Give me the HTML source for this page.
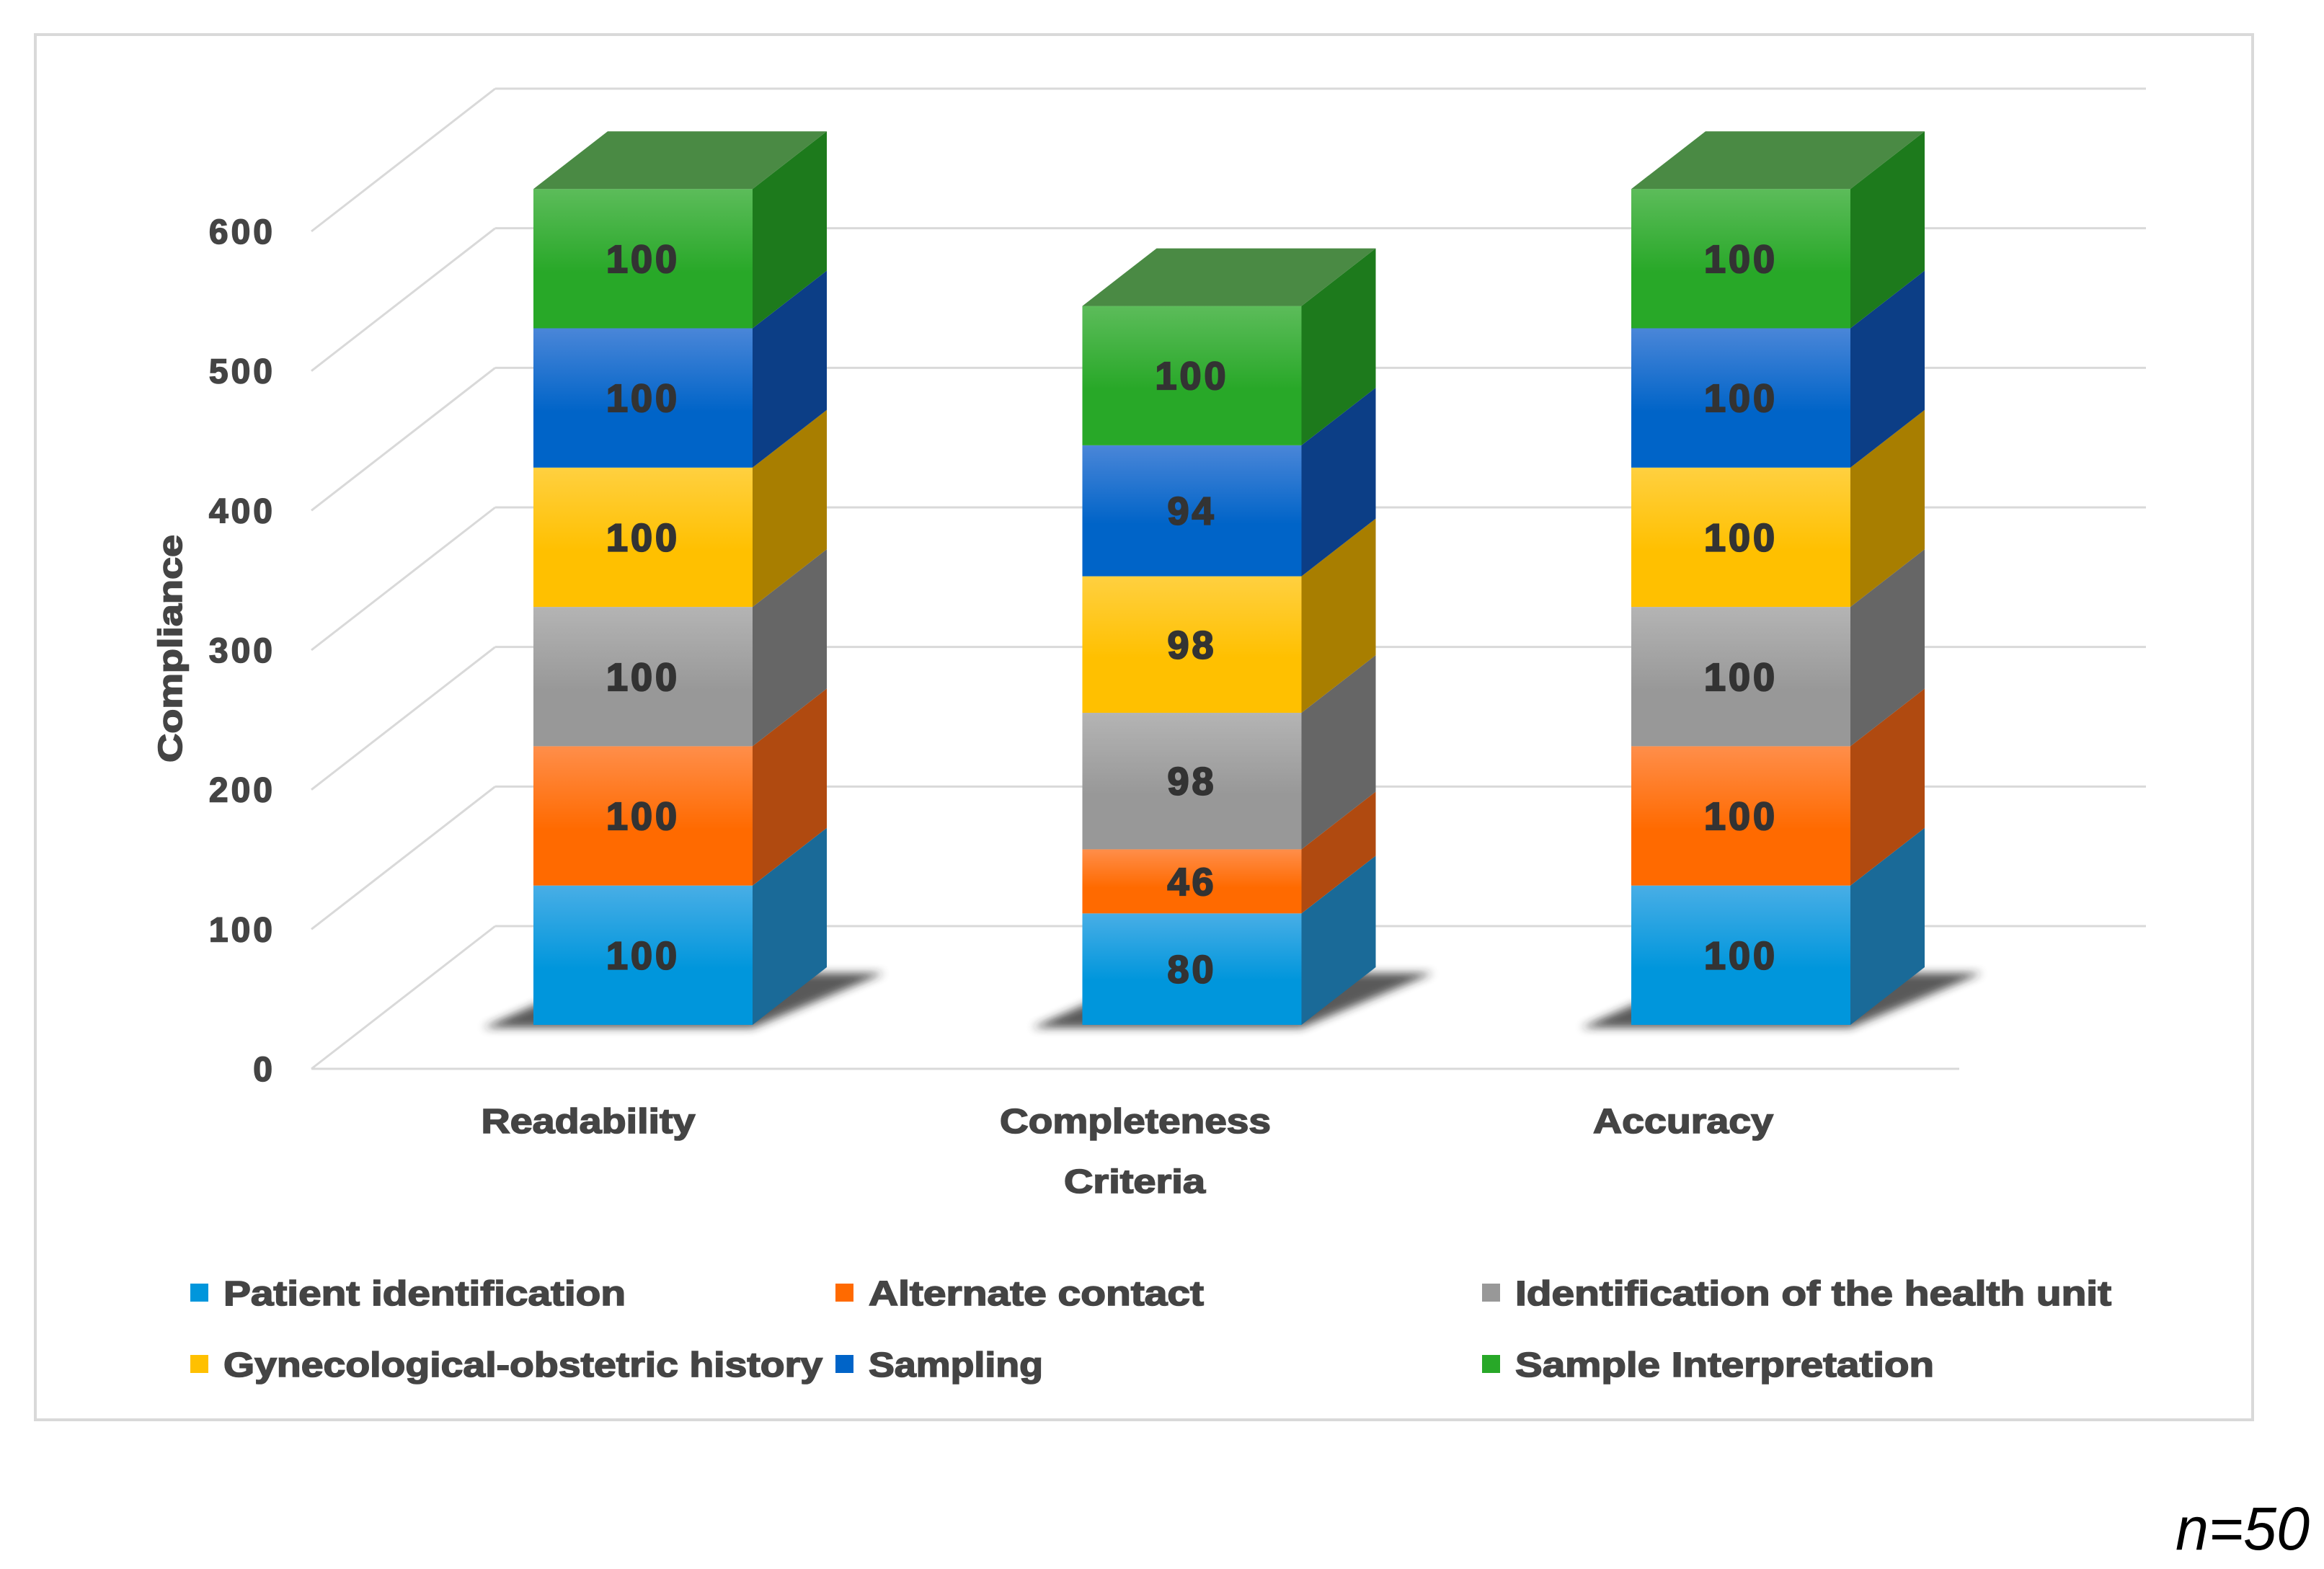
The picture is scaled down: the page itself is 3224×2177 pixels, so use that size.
<!DOCTYPE html>
<html><head><meta charset="utf-8"><style>
html,body{margin:0;padding:0;background:#fff;}
svg{display:block;}
text{font-family:"Liberation Sans",Arial,sans-serif;}
.bold{stroke:#444;stroke-width:1.6;paint-order:stroke;}
</style></head><body>
<svg id="chart" width="3224" height="2177" viewBox="0 0 3224 2177" xmlns="http://www.w3.org/2000/svg">
<defs>
<filter id="blur" x="-20%" y="-50%" width="140%" height="200%"><feGaussianBlur stdDeviation="6"/></filter>
</defs>
<rect x="49" y="48" width="3076" height="1922" fill="#fff" stroke="#d9d9d9" stroke-width="4"/>
<g id="grid"></g>
<g id="ticks"></g>
<g id="bars"></g>
<text class="bold" transform="translate(252,900) rotate(-90)" text-anchor="middle" font-size="46" font-weight="bold" fill="#444" textLength="316" lengthAdjust="spacingAndGlyphs">Compliance</text>
<g id="cats"></g>
<text class="bold" x="1574" y="1655" text-anchor="middle" font-size="46" font-weight="bold" fill="#444" textLength="196" lengthAdjust="spacingAndGlyphs">Criteria</text>
<g id="legend"></g>
<text x="3204" y="2150" text-anchor="end" font-size="84" font-style="italic" fill="#000" textLength="186" lengthAdjust="spacingAndGlyphs">n=50</text>
</svg>
<script>
const categories = ["Readability","Completeness","Accuracy"];
const seriesNames = ["Patient identification","Alternate contact","Identification of the health unit","Gynecological-obstetric history","Sampling","Sample Interpretation"];
const patientIdentification = [100,80,100];
const alternateContact = [100,46,100];
const healthUnit = [100,98,100];
const gynObstetric = [100,98,100];
const sampling = [100,94,100];
const sampleInterpretation = [100,100,100];
const yTicks = [0,100,200,300,400,500,600];

const series = [patientIdentification,alternateContact,healthUnit,gynObstetric,sampling,sampleInterpretation];
const front = [["#48aee6","#0096dc"],["#ff8e4a","#ff6a00"],["#b4b4b4","#989898"],["#ffd040","#ffc000"],["#4a86d8","#0064c8"],["#5cbc5a","#28a828"]];
const side = ["#1a6a98","#b04a10","#666666","#a87e00","#0c3e86","#1d7a1c"];
const NS="http://www.w3.org/2000/svg";
const svg=document.getElementById('chart');
const defs=svg.querySelector('defs');
front.forEach((c,i)=>{const g=document.createElementNS(NS,'linearGradient');g.setAttribute('id','g'+i);g.setAttribute('x1','0');g.setAttribute('y1','0');g.setAttribute('x2','0');g.setAttribute('y2','1');
g.innerHTML='<stop offset="0" stop-color="'+c[0]+'"/><stop offset="0.6" stop-color="'+c[1]+'"/><stop offset="1" stop-color="'+c[1]+'"/>';defs.appendChild(g);});
function mk(tag,attrs,parent){const e=document.createElementNS(NS,tag);for(const k in attrs)e.setAttribute(k,attrs[k]);parent.appendChild(e);return e;}
const gridScale=(1483-321)/600;
const yGrid=v=>1483-v*gridScale;
const barScale=1.933;
const yBar=v=>1422-v*barScale;
const xCenter=i=>892+i*761.5;
const BW=304, DX=103, DY=-80, GDX=255, GDY=-198;
const grid=document.getElementById('grid');
const ticks=document.getElementById('ticks');
yTicks.forEach(v=>{
  const y=yGrid(v);
  let l=mk('line',{x1:687,y1:y+GDY,x2:2977,y2:y+GDY,stroke:"#d9d9d9","stroke-width":3},grid);
  
  l=mk('line',{x1:432,y1:y,x2:687,y2:y+GDY,stroke:"#d9d9d9","stroke-width":3},grid);
  
  const t=mk('text',{x:382,y:y+17,"text-anchor":"end","font-size":48,"font-weight":"bold",fill:"#444","letter-spacing":"4","class":"bold"},ticks);
  
  t.textContent=v;
});
let fl=mk('line',{x1:432,y1:1483,x2:2718,y2:1483,stroke:"#d9d9d9","stroke-width":3},grid);


const bars=document.getElementById('bars');
categories.forEach((c,ci)=>{
  const x0=xCenter(ci)-BW/2;
  const sh=mk('polygon',{points:[x0-70,1426,x0+BW,1426,x0+BW+DX+80,1422+DY+8,x0+DX,1422+DY+8].join(' '),fill:"#222",opacity:0.75,filter:"url(#blur)"},bars);
  
  let cum=0;
  series.forEach((s,si)=>{
    const v=s[ci];const yb=yBar(cum),yt=yBar(cum+v);cum+=v;
    const r=mk('rect',{x:x0,y:yt,width:BW,height:yb-yt,fill:"url(#g"+si+")"},bars);
    
    const p=mk('polygon',{points:[x0+BW,yb,x0+BW+DX,yb+DY,x0+BW+DX,yt+DY,x0+BW,yt].join(' '),fill:side[si]},bars);
    
    const t=mk('text',{x:xCenter(ci),y:(yb+yt)/2+19,"text-anchor":"middle","font-size":54,"font-weight":"bold",fill:"#333",stroke:"#333","stroke-width":2.2,"letter-spacing":"4"},bars);
    
    t.textContent=v;
  });
  const yt=yBar(cum);
  const top=mk('polygon',{points:[x0,yt,x0+BW,yt,x0+BW+DX,yt+DY,x0+DX,yt+DY].join(' '),fill:"#4a8a44"},bars);
  
});
const cats=document.getElementById('cats');
const catX=[816,1575,2335], catW=[297,376,250];
categories.forEach((c,i)=>{
  const t=mk('text',{x:catX[i],y:1572,"text-anchor":"middle","font-size":48,"font-weight":"bold",fill:"#444","class":"bold",textLength:catW[i],lengthAdjust:"spacingAndGlyphs"},cats);
  
  t.textContent=c;
});
const legend=document.getElementById('legend');
const lgX=[310,1205,2102,310,1205,2102], lgY=[1794,1794,1794,1893,1893,1893], lgW=[558,465,827,831,242,581];
seriesNames.forEach((n,i)=>{
  const r=mk('rect',{x:lgX[i]-46,y:lgY[i]-13,width:25,height:25,fill:front[i][1]},legend);
  
  const t=mk('text',{x:lgX[i],y:lgY[i]+17,"font-size":48,"font-weight":"bold",fill:"#444","class":"bold",textLength:lgW[i],lengthAdjust:"spacingAndGlyphs"},legend);
  
  t.textContent=n;
});
</script>
</body></html>
